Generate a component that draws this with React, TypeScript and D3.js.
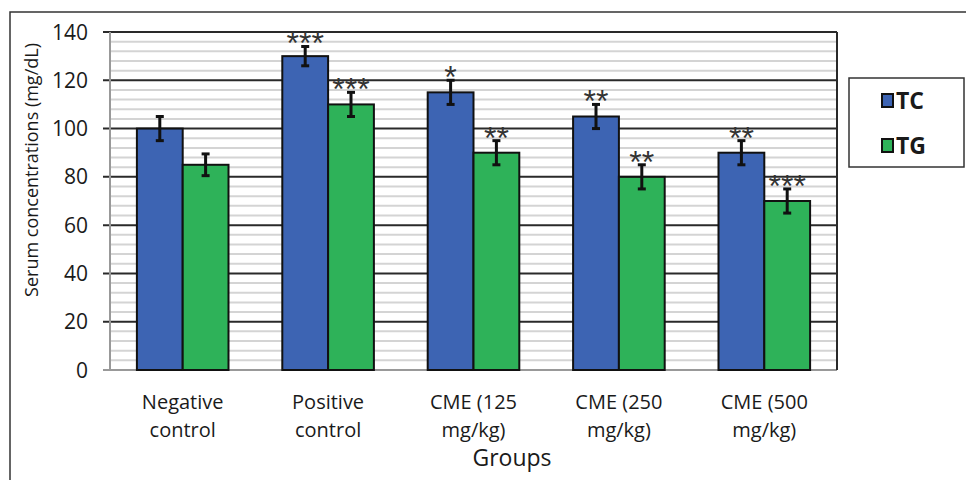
import React, { useRef, useEffect } from 'react'
import * as d3 from 'd3'

const groups = ['Negative control', 'Positive control', 'CME (125 mg/kg)', 'CME (250 mg/kg)', 'CME (500 mg/kg)']
const groupLines = [['Negative', 'control'], ['Positive', 'control'], ['CME (125', 'mg/kg)'], ['CME (250', 'mg/kg)'], ['CME (500', 'mg/kg)']]
const series = ['TC', 'TG']
const tcValues = [100, 130, 115, 105, 90]
const tgValues = [85, 110, 90, 80, 70]
const tcErrors = [5, 4, 5, 5, 5]
const tgErrors = [4.5, 5, 5, 5, 5]
const tcStars = ['', '***', '*', '**', '**']
const tgStars = ['', '***', '**', '**', '***']
const yTicks = [0, 20, 40, 60, 80, 100, 120, 140]

const colors = { TC: '#3d64b3', TG: '#2eb259' }
const font = '"Open Sans", "Liberation Sans", sans-serif'

const App = () => {
    const svgRef = useRef(null)

    useEffect(() => {
        const svg = d3.select(svgRef.current)
        svg.selectAll('*').remove()

        const left = 110, right = 837, top = 32, bottom = 370

        const yScale = d3.scaleLinear().domain([0, 140]).range([bottom, top])
        const x0 = d3.scaleBand().domain(groups).range([left, right]).paddingInner(0.37).paddingOuter(0.185)
        const x1 = d3.scaleBand().domain(series).range([0, x0.bandwidth()])

        // outer frame (cropped figure border)
        svg.append('path')
            .attr('d', 'M10,480 L10,12 L966,12')
            .attr('fill', 'none')
            .attr('stroke', '#333')
            .attr('stroke-width', 1.5)

        // minor grid
        svg.append('g')
            .selectAll('line')
            .data(d3.range(4, 140, 4).filter(v => v % 20 !== 0))
            .join('line')
            .attr('x1', left).attr('x2', right)
            .attr('y1', d => yScale(d)).attr('y2', d => yScale(d))
            .attr('stroke', '#d4d4d4')
            .attr('stroke-width', 2)

        // major grid
        svg.append('g')
            .selectAll('line')
            .data(yTicks.filter(v => v > 0))
            .join('line')
            .attr('x1', left - 7).attr('x2', right)
            .attr('y1', d => yScale(d)).attr('y2', d => yScale(d))
            .attr('stroke', '#2a2a2a')
            .attr('stroke-width', 2)

        // axis lines
        svg.append('line')
            .attr('x1', left).attr('x2', left).attr('y1', top).attr('y2', bottom)
            .attr('stroke', '#999').attr('stroke-width', 2)
        svg.append('line')
            .attr('x1', left - 7).attr('x2', right).attr('y1', bottom).attr('y2', bottom)
            .attr('stroke', '#999').attr('stroke-width', 2)
        svg.append('line')
            .attr('x1', right).attr('x2', right).attr('y1', top).attr('y2', bottom)
            .attr('stroke', '#2a2a2a').attr('stroke-width', 2)

        // y tick labels
        svg.append('g')
            .selectAll('text')
            .data(yTicks)
            .join('text')
            .attr('x', 88)
            .attr('y', d => yScale(d))
            .attr('dy', '0.36em')
            .attr('text-anchor', 'end')
            .attr('font-family', font)
            .attr('font-size', 21)
            .attr('fill', '#1a1a1a')
            .text(d => d)

        const rows = groups.map((g, i) => [
            { group: g, key: 'TC', value: tcValues[i], err: tcErrors[i], stars: tcStars[i] },
            { group: g, key: 'TG', value: tgValues[i], err: tgErrors[i], stars: tgStars[i] },
        ]).flat()

        const cx = d => x0(d.group) + x1(d.key) + x1.bandwidth() / 2

        // bars
        svg.append('g')
            .selectAll('rect')
            .data(rows)
            .join('rect')
            .attr('x', d => x0(d.group) + x1(d.key))
            .attr('y', d => yScale(d.value))
            .attr('width', x1.bandwidth())
            .attr('height', d => bottom - yScale(d.value))
            .attr('fill', d => colors[d.key])
            .attr('stroke', '#111')
            .attr('stroke-width', 2)

        // error bars
        const err = svg.append('g').attr('stroke', '#111').attr('stroke-width', 3)
        rows.forEach(d => {
            const x = cx(d)
            const y1 = yScale(d.value + d.err), y2 = yScale(d.value - d.err)
            err.append('line').attr('x1', x).attr('x2', x).attr('y1', y1).attr('y2', y2)
            err.append('line').attr('x1', x - 4).attr('x2', x + 4).attr('y1', y1).attr('y2', y1)
            err.append('line').attr('x1', x - 4).attr('x2', x + 4).attr('y1', y2).attr('y2', y2)
        })

        // significance stars
        svg.append('g')
            .selectAll('text')
            .data(rows.filter(d => d.stars))
            .join('text')
            .attr('x', d => cx(d))
            .attr('y', d => yScale(d.value + d.err) + 8)
            .attr('text-anchor', 'middle')
            .attr('font-family', '"Liberation Sans", Arial, sans-serif')
            .attr('font-size', 32)
            .attr('fill', '#333')
            .text(d => d.stars)

        // x labels, two lines each
        const xl = svg.append('g')
        groupLines.forEach((lines, i) => {
            lines.forEach((l, j) => {
                xl.append('text')
                    .attr('x', x0(groups[i]) + x0.bandwidth() / 2)
                    .attr('y', 409 + j * 28)
                    .attr('text-anchor', 'middle')
                    .attr('font-family', font)
                    .attr('font-size', 20)
                    .attr('fill', '#1a1a1a')
                    .text(l)
            })
        })

        // axis titles
        svg.append('text')
            .attr('x', 512)
            .attr('y', 466)
            .attr('text-anchor', 'middle')
            .attr('font-family', font)
            .attr('font-size', 23)
            .attr('fill', '#1a1a1a')
            .text('Groups')

        svg.append('text')
            .attr('transform', 'translate(38,' + 170 + ') rotate(-90)')
            .attr('text-anchor', 'middle')
            .attr('font-family', font)
            .attr('font-size', 18)
            .attr('fill', '#1a1a1a')
            .text('Serum concentrations (mg/dL)')

        // legend
        const lg = svg.append('g')
        lg.append('rect')
            .attr('x', 849).attr('y', 78).attr('width', 115).attr('height', 89)
            .attr('fill', '#fff').attr('stroke', '#333').attr('stroke-width', 1.5)
        series.forEach((s, i) => {
            const cy = 101 + i * 45
            lg.append('rect')
                .attr('x', 882).attr('y', cy - 7).attr('width', 11).attr('height', 13)
                .attr('fill', colors[s]).attr('stroke', '#111').attr('stroke-width', 2)
            lg.append('text')
                .attr('x', 896).attr('y', cy).attr('dy', '0.36em')
                .attr('font-family', font)
                .attr('font-weight', 'bold')
                .attr('font-size', 23)
                .attr('fill', '#1a1a1a')
                .text(s)
        })
    }, [])

    return (
        <div style={{ position: 'absolute', left: 0, top: 0 }}>
            <svg width={966} height={480} ref={svgRef} style={{ display: 'block', background: '#fff' }} />
        </div>
    )
}

export default App
